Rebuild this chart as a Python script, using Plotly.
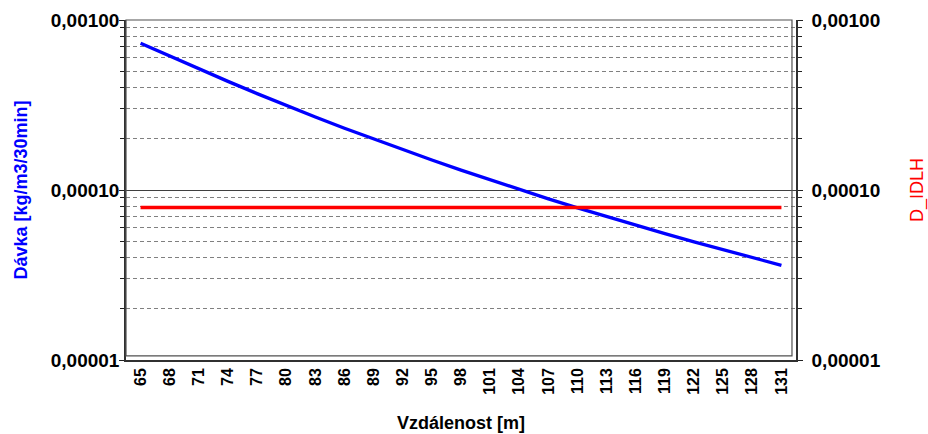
import plotly.graph_objects as go

# ---- data ----
distance_m = [65, 68, 71, 74, 77, 80, 83, 86, 89, 92, 95, 98, 101, 104,
              107, 110, 113, 116, 119, 122, 125, 128, 131]
dose = [7.295e-4, 6.124e-4, 5.152e-4, 4.355e-4, 3.690e-4, 3.141e-4,
        2.685e-4, 2.307e-4, 1.991e-4, 1.726e-4, 1.500e-4, 1.309e-4,
        1.146e-4, 1.007e-4, 8.872e-5, 7.852e-5, 6.966e-5, 6.194e-5,
        5.534e-5, 4.955e-5, 4.446e-5, 3.999e-5, 3.606e-5]
d_idlh = [7.9e-5] * len(distance_m)

x_tick_labels = [str(v) for v in distance_m]
y_major_ticks = [1e-5, 1e-4, 1e-3]
y_minor_ticks = [m * 10 ** e for e in (-5, -4) for m in range(2, 10)]

FONT = "Liberation Sans"

fig = go.Figure()
fig.add_trace(go.Scatter(x=distance_m, y=dose, mode="lines",
                         line=dict(color="#0000FF", width=3.3),
                         name="Dávka", yaxis="y"))
fig.add_trace(go.Scatter(x=distance_m, y=d_idlh, mode="lines",
                         line=dict(color="#FF0000", width=3.5),
                         name="D_IDLH", yaxis="y2"))

tickfont = dict(family=FONT, size=19, color="black", weight="bold")

yaxis_common = dict(
    type="log", range=[-5, -3],
    tickvals=y_major_ticks, tickformat=".5f",
    tickfont=tickfont,
    ticks="outside", ticklen=5, tickcolor="#202020",
    showline=True, linecolor="#303030", linewidth=1.5,
    zeroline=False, automargin=False,
)

fig.update_layout(
    width=928, height=434,
    margin=dict(l=126, r=132, t=20, b=74),
    paper_bgcolor="white", plot_bgcolor="white",
    separators=", ",
    showlegend=False,
    xaxis=dict(
        range=[63.5, 132.5], automargin=False,
        tickvals=distance_m, ticktext=x_tick_labels,
        tickangle=-90,
        tickfont=dict(family=FONT, size=16, color="black", weight="bold"),
        ticks="", showgrid=False, zeroline=False,
        showline=True, linecolor="#303030", linewidth=1.5,
        title=dict(text="Vzdálenost [m]",
                   font=dict(family=FONT, size=18, color="black", weight="bold"),
                   standoff=23),
    ),
    yaxis=dict(
        **yaxis_common,
        side="left",
        ticklabelstandoff=-4,
        showgrid=True, gridcolor="#404040", gridwidth=1,
        minor=dict(tickvals=y_minor_ticks, showgrid=True,
                   gridcolor="#808080", griddash="4px,3px", gridwidth=1,
                   ticks="outside", ticklen=4, tickcolor="#202020"),
        title=dict(text="Dávka [kg/m3/30min]",
                   font=dict(family=FONT, size=18, color="#0000FF", weight="bold"),
                   standoff=18),
    ),
    yaxis2=dict(
        **yaxis_common,
        overlaying="y", side="right",
        ticklabelstandoff=5,
        showgrid=False,
        minor=dict(tickvals=y_minor_ticks, ticks="outside", ticklen=4,
                   tickcolor="#202020", showgrid=False),
        title=dict(text="D_IDLH",
                   font=dict(family=FONT, size=18, color="#FF0000"),
                   standoff=40),
    ),
    shapes=[dict(type="rect", xref="paper", yref="paper",
                 x0=0, x1=0.994, y0=0.012, y1=1,
                 line=dict(color="#505050", width=1.2), layer="above")],
)

fig.write_html(
    "out.html",
    config={"displayModeBar": False},
    post_script="document.body.style.margin='0';document.body.style.overflow='hidden';",
)
